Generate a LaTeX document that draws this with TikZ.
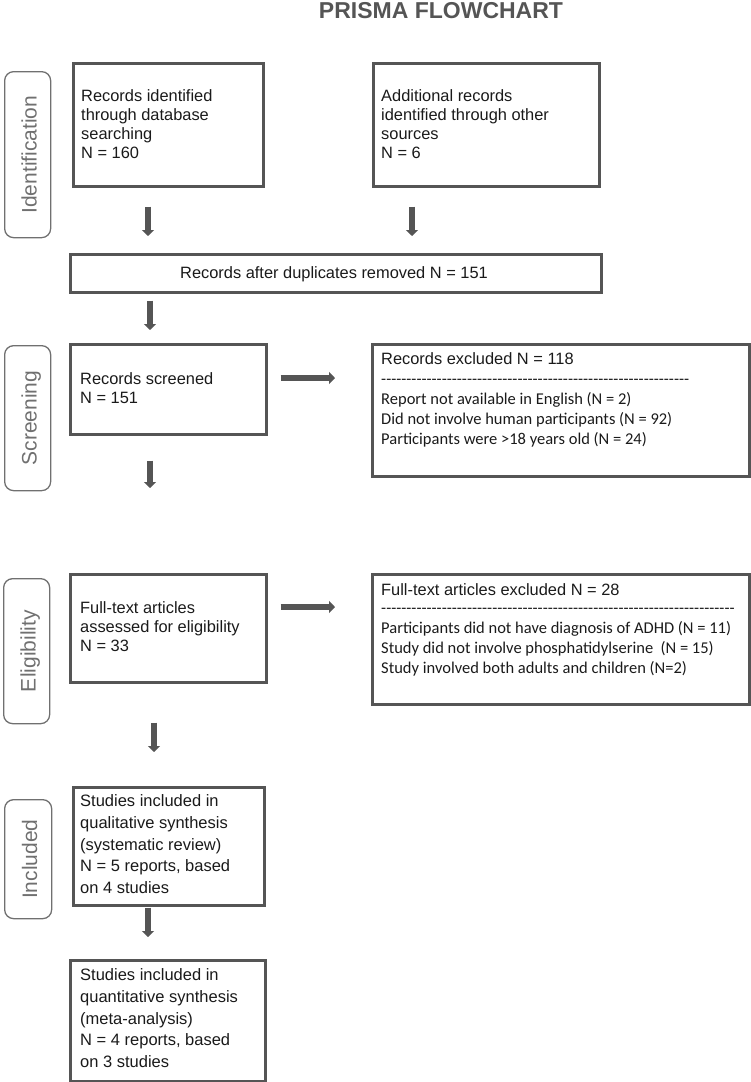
\documentclass[tikz,border=0pt]{standalone}
\usepackage{fontspec}
\setmainfont{Liberation Sans}
\newfontfamily\calfont{Carlito}
\usetikzlibrary{arrows.meta,calc}
\definecolor{edge}{HTML}{555555}
\definecolor{pillc}{HTML}{707070}
\definecolor{ink}{HTML}{1A1A1A}
\definecolor{titlec}{HTML}{555555}
\newcommand{\strt}{\rule{0pt}{16pt}}
\newcommand{\dashrow}[1]{\foreach \i in {1,...,#1}{-\kern0pt}}
\tikzset{
 box/.style={draw=edge, line width=2.6pt, anchor=north west, inner sep=0pt},
 pill/.style={draw=pillc, line width=1.3pt, rounded corners=9pt, anchor=north west, inner sep=0pt},
 pilltext/.style={text=pillc, font=\fontsize{21}{25}\selectfont, rotate=90, anchor=base, inner sep=0pt},
 txt/.style={anchor=north west, inner sep=0pt, align=left, text=ink, font=\fontsize{16.4}{19.2}\selectfont},
 txtb/.style={txt, font=\fontsize{16.5}{21.9}\selectfont},
 ltxt/.style={txt, font=\calfont\fontsize{16.5}{20}\selectfont},
 flow/.style={draw=edge, line width=5.5pt, -{Triangle[length=6pt,width=12pt]}},
}
\begin{document}
\begin{tikzpicture}[x=1pt,y=-1pt]
\useasboundingbox (0,0) rectangle (750,1082);

% title
\node[anchor=base, inner sep=0pt, text=titlec, font=\fontsize{23}{27}\selectfont\bfseries] (title) at (441,18) {PRISMA FLOWCHART};

% phase pills
\node[pill, minimum width=46pt, minimum height=166pt] (p1) at (4,71) {};
\node[pilltext] (p1t) at ($(p1.center)+(9pt,0pt)$) {Identification};
\node[pill, minimum width=46pt, minimum height=145pt] (p2) at (4,345) {};
\node[pilltext] (p2t) at ($(p2.center)+(9pt,0pt)$) {Screening};
\node[pill, minimum width=46pt, minimum height=145pt] (p3) at (3,578) {};
\node[pilltext] (p3t) at ($(p3.center)+(9pt,0pt)$) {Eligibility};
\node[pill, minimum width=47pt, minimum height=119pt] (p4) at (4,799) {};
\node[pilltext] (p4t) at ($(p4.center)+(9pt,0pt)$) {Included};

% boxes
\node[box, minimum width=190pt, minimum height=123pt] (b1) at (72,62) {};
\node[box, minimum width=226pt, minimum height=123pt] (b2) at (372,62) {};
\node[box, minimum width=531pt, minimum height=38pt] (b3) at (69,253) {};
\node[box, minimum width=196pt, minimum height=90pt] (b4) at (69,343) {};
\node[box, minimum width=377pt, minimum height=132pt] (b5) at (371,343) {};
\node[box, minimum width=196pt, minimum height=108pt] (b6) at (69,573) {};
\node[box, minimum width=377pt, minimum height=130pt] (b7) at (371,573) {};
\node[box, minimum width=191pt, minimum height=118pt] (b8) at (72,786) {};
\node[box, minimum width=195pt, minimum height=121pt] (b9) at (69,959) {};

% texts
\node[txt] (t1) at (81,85) {\strt Records identified\\through database\\searching\\N = 160};
\node[txt] (t2) at (381,85) {\strt Additional records\\identified through other\\sources\\N = 6};
\node[anchor=base, inner sep=0pt, text=ink, font=\fontsize{16.4}{19.2}\selectfont] (t3) at (334,278) {Records after duplicates removed N = 151};
\node[txt] (t4) at (80,368) {\strt Records screened\\N = 151};
\node[txt] (t5a) at (381,348) {\strt Records excluded N = 118};
\node[ltxt] (t5b) at (381,368) {\strt\dashrow{61}};
\node[ltxt] (t5c) at (381,388) {\strt Report not available in English (N = 2)\\Did not involve human participants (N = 92)\\Participants were >18 years old (N = 24)};
\node[txt] (t6) at (80,597) {\strt Full-text articles\\assessed for eligibility\\N = 33};
\node[txt] (t7a) at (381,579) {\strt Full-text articles excluded N = 28};
\node[ltxt] (t7b) at (381,597) {\strt\dashrow{70}};
\node[ltxt] (t7c) at (381,617) {\strt Participants did not have diagnosis of ADHD (N = 11)\\Study did not involve phosphatidylserine~ (N = 15)\\Study involved both adults and children (N=2)};
\node[txtb] (t8) at (80,790) {\strt Studies included in\\qualitative synthesis\\(systematic review)\\N = 5 reports, based\\on 4 studies};
\node[txtb] (t9) at (80,964) {\strt Studies included in\\quantitative synthesis\\(meta-analysis)\\N = 4 reports, based\\on 3 studies};

% connectors
\draw[flow] ([xshift=76pt,yshift=-19pt]b1.south west) -- ([xshift=79pt,yshift=17pt]b3.north west);
\draw[flow] ([xshift=40pt,yshift=-19pt]b2.south west) -- ([xshift=343pt,yshift=17pt]b3.north west);
\draw[flow] ([xshift=81pt,yshift=-7pt]b3.south west) -- ([xshift=81pt,yshift=13pt]b4.north west);
\draw[flow] ([xshift=81pt,yshift=-25pt]b4.south west) -- ([xshift=81pt,yshift=85pt]b6.north west);
\draw[flow] ([xshift=13pt,yshift=-35pt]b4.north east) -- ([xshift=-36pt,yshift=-35pt]b5.north west);
\draw[flow] ([xshift=13pt,yshift=-34pt]b6.north east) -- ([xshift=-36pt,yshift=-34pt]b7.north west);
\draw[flow] ([xshift=85pt,yshift=-39pt]b6.south west) -- ([xshift=82pt,yshift=34pt]b8.north west);
\draw[flow] ([xshift=76pt,yshift=-1pt]b8.south west) -- ([xshift=79pt,yshift=22pt]b9.north west);
\end{tikzpicture}
\end{document}
